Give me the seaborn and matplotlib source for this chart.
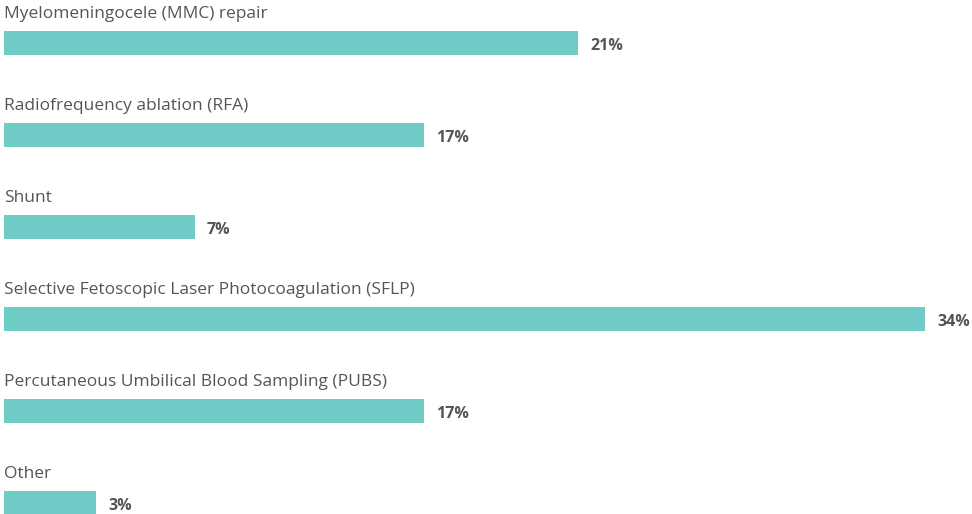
import seaborn as sns
import matplotlib.pyplot as plt
import pandas as pd

# procedures and bar lengths
procedures = [
    'Myelomeningocele (MMC) repair',
    'Radiofrequency ablation (RFA)',
    'Shunt',
    'Selective Fetoscopic Laser Photocoagulation (SFLP)',
    'Percutaneous Umbilical Blood Sampling (PUBS)',
    'Other',
]
bar_values = [21.2, 15.5, 7.05, 34.0, 15.5, 3.4]
value_labels = ['21%', '17%', '7%', '34%', '17%', '3%']

df = pd.DataFrame({'procedure': procedures, 'value': bar_values})

sns.set_theme(style='white')
plt.rcParams['font.family'] = ['Open Sans', 'DejaVu Sans']

fig = plt.figure(figsize=(9.72, 5.14), dpi=100)
ax = fig.add_axes([0, 0, 1, 1])

sns.barplot(data=df, x='value', y='procedure', orient='h', color='#6ECBC5',
            saturation=1, width=0.27, linewidth=0, ax=ax)

px = 921 / 34
ax.set_xlim(-4 / px, 968 / px)
ax.set_ylim(5.12, -0.467)

for i, (name, val, lab) in enumerate(zip(procedures, bar_values, value_labels)):
    ax.text(0, i - 0.31, name, fontsize=12.5, color='#555555',
            ha='left', va='center')
    ax.text(val + 12 / px, i + 0.03, lab, fontsize=11.5, color='#555555',
            fontweight='bold', ha='left', va='center')

ax.set_axis_off()
fig.savefig('out.png', dpi=100)
